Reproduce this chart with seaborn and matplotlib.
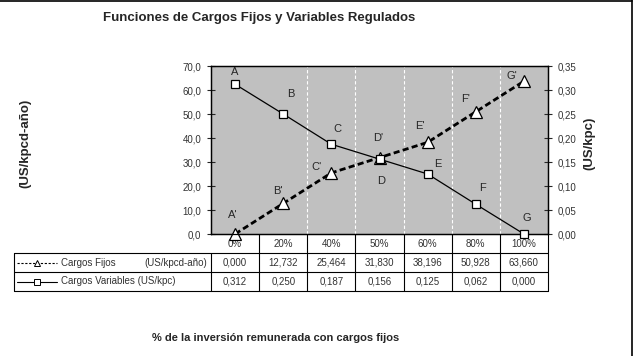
import matplotlib
matplotlib.use("Agg")
import matplotlib.pyplot as plt
import seaborn as sns
import numpy as np
import pandas as pd
from matplotlib.lines import Line2D

# ---- data ----
categories = ["0%", "20%", "40%", "50%", "60%", "80%", "100%"]
fijos = [0.000, 12.732, 25.464, 31.830, 38.196, 50.928, 63.660]
variables = [0.312, 0.250, 0.187, 0.156, 0.125, 0.062, 0.000]
fijos_txt = ["0,000", "12,732", "25,464", "31,830", "38,196", "50,928", "63,660"]
variables_txt = ["0,312", "0,250", "0,187", "0,156", "0,125", "0,062", "0,000"]
labels_var = ["A", "B", "C", "D", "E", "F", "G"]
labels_fij = ["A'", "B'", "C'", "D'", "E'", "F'", "G'"]
left_ticks = [0, 10, 20, 30, 40, 50, 60, 70]
right_ticks = [0.00, 0.05, 0.10, 0.15, 0.20, 0.25, 0.30, 0.35]

# label offsets (pixels) relative to each point
off_var = [(0, 12), (8, 20), (6, 15), (2, -22), (10, 10), (7, 16), (3, 16)]
off_fij = [(-2, 19), (-5, 12), (-15, 6), (-1, 20), (-8, 16), (-10, 13), (-12, 5)]

sns.set_style("white")
plt.rcParams["font.family"] = ["Liberation Sans", "DejaVu Sans"]

df = pd.DataFrame({"x": np.arange(len(categories)), "fijos": fijos, "variables": variables})

fig = plt.figure(figsize=(6.34, 3.56), dpi=100)
W, H = 634, 356
ax = fig.add_axes([211 / W, 1 - 234 / H, (548 - 211) / W, (234 - 66) / H])
ax.set_facecolor("#C0C0C0")
ax2 = ax.twinx()

sns.lineplot(data=df, x="x", y="fijos", ax=ax, color="black", linewidth=2.0,
             marker="^", markersize=8, markerfacecolor="white",
             markeredgecolor="black", markeredgewidth=0.9, zorder=5)
for ln in ax.get_lines():
    ln.set_dashes((2.2, 1.2))
    ln.set_clip_on(False)

sns.lineplot(data=df, x="x", y="variables", ax=ax2, color="black", linewidth=0.9,
             marker="s", markersize=6, markerfacecolor="white",
             markeredgecolor="black", markeredgewidth=0.9, zorder=4)
for ln in ax2.get_lines():
    ln.set_clip_on(False)

ax.set_xlim(-0.5, len(categories) - 0.5)
ax.set_ylim(0, 70)
ax2.set_ylim(0, 0.35)
ax.set_yticks(left_ticks)
ax.set_yticklabels([f"{v:.1f}".replace(".", ",") for v in left_ticks])
ax2.set_yticks(right_ticks)
ax2.set_yticklabels([f"{v:.2f}".replace(".", ",") for v in right_ticks])
ax.set_xticks([])
ax2.set_xticks([])
ax.set_xlabel("")
ax.set_ylabel("")
ax2.set_xlabel("")
ax2.set_ylabel("")
ax.tick_params(axis="y", direction="inout", length=6, width=0.8, labelsize=7,
               labelcolor="#333333", pad=4, left=True)
ax2.tick_params(axis="y", direction="inout", length=6, width=0.8, labelsize=7,
                labelcolor="#333333", pad=4, right=True)
for a in (ax, ax2):
    for s in a.spines.values():
        s.set_color("black")
        s.set_linewidth(0.9)

# white dashed vertical grid lines
for i in range(1, len(categories) - 1):
    ax.axvline(i + 0.5, color="white", linestyle=(0, (3, 2)), linewidth=0.8, zorder=1)

# point labels
for i in range(len(categories)):
    ax2.annotate(labels_var[i], (i, variables[i]), xytext=off_var[i],
                 textcoords="offset pixels", ha="center", va="center", fontsize=8)
    ax.annotate(labels_fij[i], (i, fijos[i]), xytext=off_fij[i],
                textcoords="offset pixels", ha="center", va="center", fontsize=8)

# ---- data table under the plot ----
tr = ax.get_xaxis_transform()
n = len(categories)
def yax(p):
    return (234 - p) / 168.0
x_left = -0.5 - (211 - 15) / 48.0
y_l1, y_l2, y_l3 = yax(253), yax(272), yax(290.5)
for yy in (y_l1, y_l2, y_l3):
    ax.plot([x_left, n - 0.5], [yy, yy], transform=tr, color="black", lw=0.8, clip_on=False)
ax.plot([x_left, x_left], [y_l1, y_l3], transform=tr, color="black", lw=0.8, clip_on=False)
ax.plot([-0.5, -0.5], [y_l1, y_l3], transform=tr, color="black", lw=0.8, clip_on=False)
for i in range(n):
    ax.plot([i + 0.5, i + 0.5], [0, y_l3], transform=tr, color="black", lw=0.8, clip_on=False)
    ax.text(i, yax(244), categories[i], transform=tr, ha="center", va="center",
            fontsize=7, color="#333333")
    ax.text(i, yax(262.5), fijos_txt[i], transform=tr, ha="center", va="center",
            fontsize=7, color="#333333")
    ax.text(i, yax(281.5), variables_txt[i], transform=tr, ha="center", va="center",
            fontsize=7, color="#333333")

# legend keys inside the table
lx0 = x_left + 3 / 48.0
lx1 = x_left + 42 / 48.0
lxm = (lx0 + lx1) / 2
ax.add_line(Line2D([lx0, lx1], [yax(262.5)] * 2, transform=tr, color="black", lw=0.8,
                   linestyle=(0, (2, 1.5)), clip_on=False))
ax.add_line(Line2D([lxm], [yax(262.5)], transform=tr, marker="^", markersize=5,
                   markerfacecolor="white", markeredgecolor="black", markeredgewidth=0.7,
                   linestyle="none", clip_on=False))
ax.add_line(Line2D([lx0, lx1], [yax(281.5)] * 2, transform=tr, color="black", lw=0.8,
                   clip_on=False))
ax.add_line(Line2D([lxm], [yax(281.5)], transform=tr, marker="s", markersize=4.5,
                   markerfacecolor="white", markeredgecolor="black", markeredgewidth=0.7,
                   linestyle="none", clip_on=False))
ax.text(x_left + 46 / 48.0, yax(262.5), "Cargos Fijos", transform=tr, ha="left",
        va="center", fontsize=7, color="#333333")
ax.text(-0.5 - 4 / 48.0, yax(262.5), "(US/kpcd-año)", transform=tr, ha="right",
        va="center", fontsize=7, color="#333333")
ax.text(x_left + 46 / 48.0, yax(281.5), "Cargos Variables (US/kpc)", transform=tr,
        ha="left", va="center", fontsize=7, color="#333333")

# titles and axis labels
fig.text(259 / W, 1 - 18 / H, "Funciones de Cargos Fijos y Variables Regulados",
         ha="center", va="center", fontsize=9.5, fontweight="bold")
fig.text(276 / W, 1 - 338 / H, "% de la inversión remunerada con cargos fijos",
         ha="center", va="center", fontsize=8, fontweight="bold")
fig.text(25 / W, 1 - 143 / H, "(US/kpcd-año)", rotation=90, ha="center", va="center",
         fontsize=9.5, fontweight="bold")
fig.text(589 / W, 1 - 143 / H, "(US/kpc)", rotation=90, ha="center", va="center",
         fontsize=9.5, fontweight="bold")

# outer frame (top and right edges visible)
fig.add_artist(Line2D([0, 631.5 / W], [1 - 0.5 / H, 1 - 0.5 / H], transform=fig.transFigure,
                      color="black", lw=1.2))
fig.add_artist(Line2D([631.5 / W, 631.5 / W], [0, 1], transform=fig.transFigure,
                      color="black", lw=1.2))

fig.savefig("out.png", dpi=100, facecolor="white")
